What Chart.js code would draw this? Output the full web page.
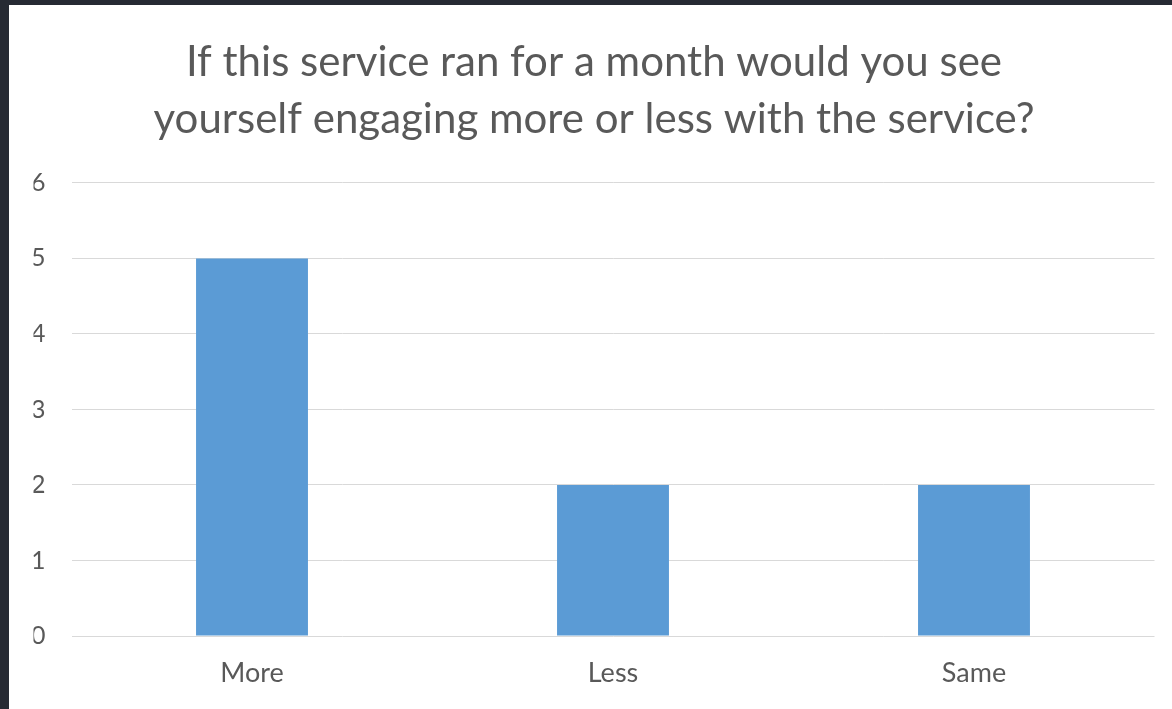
<!DOCTYPE html>
<html>
<head>
<meta charset="utf-8">
<script src="https://cdn.jsdelivr.net/npm/chart.js@4"></script>
<style>
  html, body { margin: 0; padding: 0; background: #262a33; width: 1172px; height: 709px; overflow: hidden; }
  #wrap { position: absolute; left: 9px; top: 5px; width: 1163px; height: 704px; background: #ffffff; }
</style>
</head>
<body>
<div id="wrap"><canvas id="c" width="1163" height="704"></canvas></div>
<script>
const titleLines = ["If this service ran for a month would you see", "yourself engaging more or less with the service?"];
const categories = ["More", "Less", "Same"];
const responses = [5, 2, 2];
const yTicks = [0, 1, 2, 3, 4, 5, 6];

const textColor = "#595959";
new Chart(document.getElementById("c"), {
  type: "bar",
  data: {
    labels: categories,
    datasets: [{
      data: responses,
      backgroundColor: "#5b9bd5",
      borderWidth: 0,
      categoryPercentage: 1,
      barPercentage: 0.31
    }]
  },
  options: {
    responsive: false,
    animation: false,
    devicePixelRatio: 1,
    layout: { padding: { left: 24.5, right: 17.5, top: 0, bottom: 0 } },
    plugins: {
      legend: { display: false },
      tooltip: { enabled: false },
      title: {
        display: true,
        text: titleLines,
        color: textColor,
        font: { family: "Lato", size: 42, weight: "normal", lineHeight: 1.38 },
        padding: { top: 28, bottom: 34 }
      }
    },
    scales: {
      x: {
        afterFit: (s) => { s.height = 73; },
        grid: { display: false, drawTicks: false },
        border: { display: false },
        ticks: { color: textColor, font: { family: "Lato", size: 27 }, padding: 21 }
      },
      y: {
        min: 0, max: 6,
        afterFit: (s) => { s.width = 38; },
        afterBuildTicks: (s) => { s.ticks = yTicks.map(v => ({ value: v })); },
        grid: { color: "#d9d9d9", lineWidth: 1, drawTicks: false },
        border: { display: false },
        ticks: { color: textColor, font: { family: "Lato", size: 25 }, padding: 26, stepSize: 1 }
      }
    }
  }
});
</script>
</body>
</html>
